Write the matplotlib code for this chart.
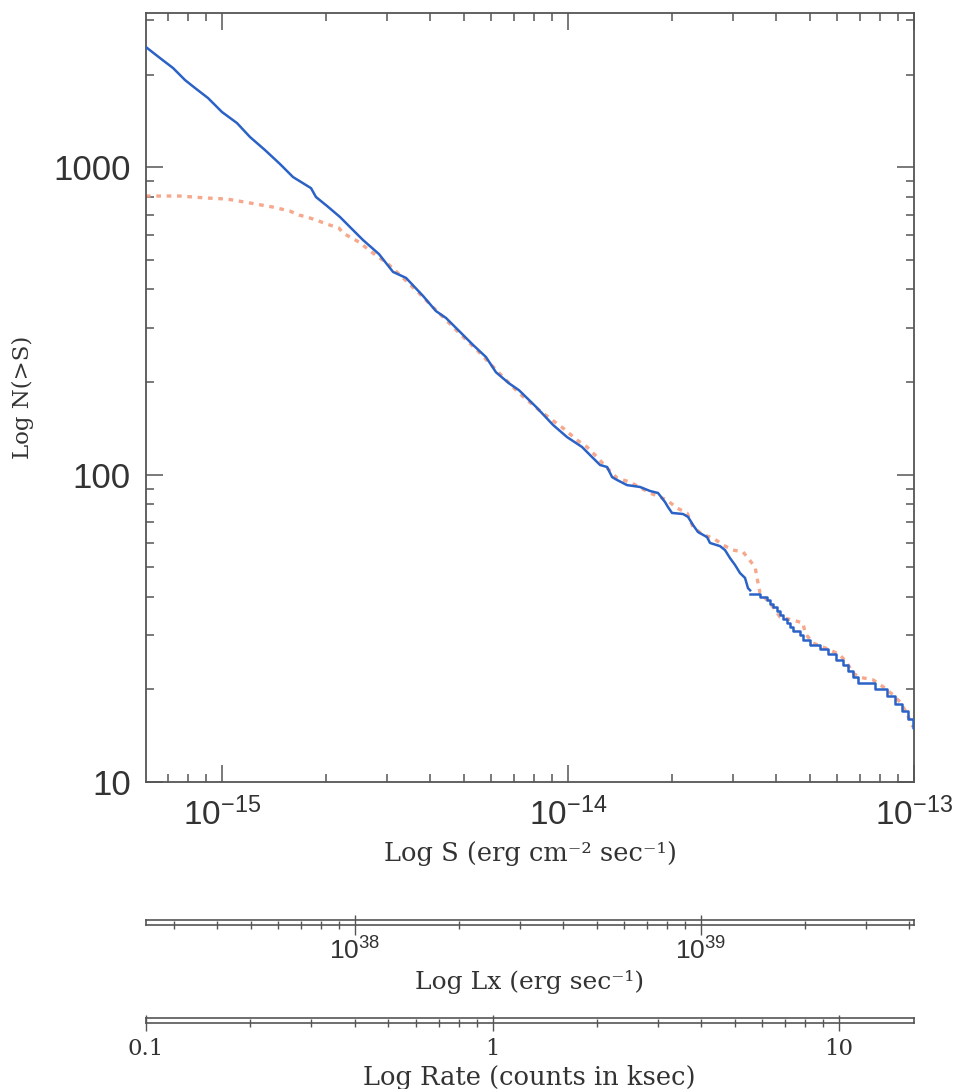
import numpy as np
import matplotlib
matplotlib.use("Agg")
import matplotlib.pyplot as plt
from matplotlib.ticker import FixedLocator, FuncFormatter, NullFormatter, LogFormatterSciNotation

# ---------------- data (flux in units of 1e-15 erg cm^-2 s^-1) ----------------
blue_flux_e15 = [0.603, 0.662, 0.722, 0.782, 0.836, 0.911, 1.000, 1.105, 1.205, 1.331,
                 1.471, 1.604, 1.808, 1.869, 2.012, 2.193, 2.344, 2.556, 2.843, 3.121,
                 3.403, 3.810, 4.155, 4.440, 4.874, 5.314, 5.794, 6.193, 6.753, 7.218,
                 8.083, 9.051, 9.934, 10.98, 11.58, 12.38, 12.97, 13.41, 13.86, 14.81,
                 16.15, 17.26, 18.20, 19.07, 19.45, 19.98, 21.50, 22.23, 22.98, 23.76,
                 25.22, 25.73, 27.50, 28.43, 29.39, 30.39, 31.42, 32.48, 33.13, 33.6]
blue_N = [2455, 2262, 2099, 1918, 1807, 1677, 1510, 1390, 1252, 1136,
          1023, 928, 854, 799, 747, 688, 638, 579, 521, 456,
          436, 381, 340, 323, 291, 264, 241, 215, 198, 188,
          166, 145, 132.4, 122.9, 115.7, 107.4, 105.8, 98.1, 96.0, 92.4,
          91.1, 88.4, 87.1, 81.4, 78.4, 75.0, 74.4, 72.8, 68.5, 65.0,
          62.6, 59.9, 58.5, 56.8, 53.5, 50.8, 47.8, 46.1, 42.7, 42]

# bright end: cumulative step function (flux where level starts, count level)
step_flux_e15 = [33.6, 35.9, 37.5, 38.4, 39.2, 40.1, 41.0, 41.9, 42.9, 43.8,
                 44.8, 46.8, 47.9, 50.05, 53.5, 56.5, 59.5, 62.5, 64.6, 66.8,
                 69.0, 77.2, 83.4, 88.1, 92.1, 96.3, 99.6, 105.0]
step_N = [41, 40, 39, 38, 37, 36, 35, 34, 33, 32,
          31, 30, 29, 28, 27, 26, 25, 24, 23, 22,
          21, 20, 19, 18, 17, 16, 15, 15]

orange_flux_e15 = [0.603, 0.632, 0.756, 0.905, 1.034, 1.205, 1.404, 1.572, 1.669, 1.761,
                   1.907, 2.012, 2.179, 2.237, 2.489, 2.732, 2.999, 3.33, 3.710, 4.072,
                   4.238, 4.842, 5.532, 6.319, 7.218, 8.246, 9.672, 10.62, 11.35, 12.13,
                   12.97, 13.86, 15.11, 17.26, 19.32, 20.65, 22.08, 22.98, 24.56, 26.25,
                   28.05, 29.99, 32.05, 33.13, 34.72, 35.41, 35.88, 37.59, 39.13, 41.0,
                   44.7, 47.8, 48.4, 51.1, 57.18, 61.1, 64.04, 66.64, 69.81, 76.1,
                   81.4, 87.0, 91.1, 94.19, 97.37, 99.3]
orange_N = [805, 805, 805, 793, 787, 764, 741, 719, 698, 688,
            667, 652, 633, 610, 570, 525, 487, 437, 389, 350,
            335, 289, 250, 214, 184, 162, 141.6, 129.5, 122.9, 114.0,
            105.0, 97.4, 94.5, 87.1, 82.6, 77.8, 75.0, 67.5, 63.6, 62.2,
            59.0, 56.8, 56.0, 53.5, 50.0, 44.4, 41.2, 39.1, 37.1, 34.4,
            33.6, 32.9, 30.5, 28.3, 26.9, 25.9, 24.4, 22.6, 21.9, 21.5,
            20.4, 19.2, 18.2, 17.1, 15.9, 15.1]

flux_limits = (6.03e-16, 1.0e-13)
count_limits = (10, 3170)
lx_limits = (10**37.396, 10**39.616)
rate_limits = (0.1, 16.46)

flux_major = [1e-15, 1e-14, 1e-13]
count_major = [10, 100, 1000]
lx_major = [1e38, 1e39]
rate_major = [0.1, 1, 10]

xlabel = "Log S (erg cm\u207b\u00b2 sec\u207b\u00b9)"
ylabel = "Log N(>S)"
lx_label = "Log Lx (erg sec\u207b\u00b9)"
rate_label = "Log Rate (counts in ksec)"


def minor_in_range(lo, hi):
    out = []
    for e in range(int(np.floor(np.log10(lo))) - 1, int(np.ceil(np.log10(hi))) + 1):
        for m in range(2, 10):
            v = m * 10.0 ** e
            if lo * 1.0001 <= v <= hi * 0.9999:
                out.append(v)
    return out


# ---------------- figure ----------------
plt.rcParams['font.family'] = ['Liberation Sans', 'DejaVu Sans']
W, H = 958, 1089
fig = plt.figure(figsize=(W / 100, H / 100), dpi=100)


def fx(px):
    return px / W


def fy(py):
    return 1 - py / H


spine_col = '#555555'
text_col = '#333333'
serif = ['DejaVu Serif']

ax = fig.add_axes([fx(146), fy(782), (914 - 146) / W, (782 - 13) / H])
ax.set_xscale('log')
ax.set_yscale('log')

scale = 1e-15
ax.plot(np.array(blue_flux_e15) * scale, blue_N, color='#2b62c6', lw=1.8, zorder=3,
        solid_joinstyle='round')
ax.step(np.array(step_flux_e15) * scale, step_N, where='post', color='#2b62c6', lw=1.8, zorder=3)
ax.plot(np.array(orange_flux_e15) * scale, orange_N, color='#f59e80', lw=2.4,
        linestyle=(0, (1.4, 1.7)), zorder=2, alpha=0.9)

ax.set_xlim(*flux_limits)
ax.set_ylim(*count_limits)
ax.xaxis.set_major_locator(FixedLocator(flux_major))
ax.xaxis.set_minor_locator(FixedLocator(minor_in_range(*flux_limits)))
ax.yaxis.set_major_locator(FixedLocator(count_major))
ax.yaxis.set_minor_locator(FixedLocator(minor_in_range(*count_limits)))
ax.xaxis.set_major_formatter(LogFormatterSciNotation())
ax.yaxis.set_major_formatter(FuncFormatter(lambda v, p: f"{v:g}"))
ax.yaxis.set_minor_formatter(NullFormatter())
ax.xaxis.set_minor_formatter(NullFormatter())
ax.tick_params(which='major', direction='in', length=12, width=1.1, color=spine_col,
               top=True, right=True, pad=11, labelcolor=text_col)
ax.tick_params(axis='y', which='major', labelsize=25)
ax.tick_params(axis='x', which='major', labelsize=24)
ax.tick_params(which='minor', direction='in', length=6, width=1.1, color=spine_col,
               top=True, right=True)
for s in ax.spines.values():
    s.set_color(spine_col)
    s.set_linewidth(1.3)

fig.text(fx(23), fy(397), ylabel, rotation=90, ha='center', va='center',
         fontsize=16.5, family=serif, color=text_col)
fig.text(fx(530), fy(853), xlabel, ha='center', va='center',
         fontsize=18.5, family=serif, color=text_col)

# ---------------- luminosity bar ----------------
axl = fig.add_axes([fx(146), fy(925), (914 - 146) / W, 5 / H])
axl.set_xscale('log')
axl.set_xlim(*lx_limits)
axl.set_yticks([])
axl.xaxis.set_major_locator(FixedLocator(lx_major))
axl.xaxis.set_minor_locator(FixedLocator(minor_in_range(*lx_limits)))
axl.xaxis.set_major_formatter(LogFormatterSciNotation())
axl.xaxis.set_minor_formatter(NullFormatter())
axl.tick_params(which='major', direction='inout', length=14, width=1.0, color=spine_col,
                labelsize=19, pad=2, labelcolor=text_col)
axl.tick_params(which='minor', direction='inout', length=6, width=1.0, color=spine_col)
for s in axl.spines.values():
    s.set_color(spine_col)
    s.set_linewidth(1.2)
fig.text(fx(530), fy(982), lx_label, ha='center', va='center',
         fontsize=18, family=serif, color=text_col)

# ---------------- rate bar ----------------
axr = fig.add_axes([fx(146), fy(1023), (914 - 146) / W, 5 / H])
axr.set_xscale('log')
axr.set_xlim(*rate_limits)
axr.set_yticks([])
axr.xaxis.set_major_locator(FixedLocator(rate_major))
axr.xaxis.set_minor_locator(FixedLocator(minor_in_range(*rate_limits)))
axr.xaxis.set_major_formatter(FuncFormatter(lambda v, p: f"{v:g}"))
axr.xaxis.set_minor_formatter(NullFormatter())
axr.tick_params(which='major', direction='inout', length=12, width=1.0, color=spine_col,
                labelsize=16.5, pad=5, labelcolor=text_col, labelfontfamily='DejaVu Serif')
axr.tick_params(which='minor', direction='inout', length=6, width=1.0, color=spine_col)
for s in axr.spines.values():
    s.set_color(spine_col)
    s.set_linewidth(1.2)
fig.text(fx(529), fy(1077), rate_label, ha='center', va='center',
         fontsize=18.5, family=serif, color=text_col)

fig.savefig("out.png", dpi=100)
